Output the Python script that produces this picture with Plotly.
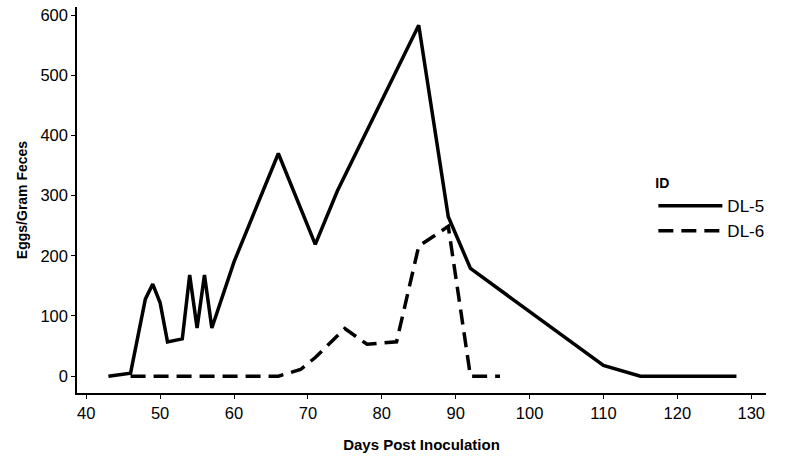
import plotly.graph_objects as go

dl5_days = [43, 46, 48, 49, 50, 51, 53, 54, 55, 56, 57, 60, 66, 71, 74, 85, 89, 92, 110, 115, 128]
dl5_eggs = [0, 5, 128, 153, 122, 57, 62, 168, 80, 168, 80, 190, 370, 219, 308, 583, 265, 179, 18, 0, 0]

dl6_days = [46, 50, 55, 60, 66, 69, 71, 75, 78, 82, 85, 89, 92, 96]
dl6_eggs = [0, 0, 0, 0, 0, 11, 31, 79, 53, 57, 216, 249, 0, 0]

x_ticks = [40, 50, 60, 70, 80, 90, 100, 110, 120, 130]
y_ticks = [0, 100, 200, 300, 400, 500, 600]

fig = go.Figure()
fig.add_trace(go.Scatter(x=dl5_days, y=dl5_eggs, mode="lines", name="DL-5",
                         line=dict(color="black", width=3.5)))
fig.add_trace(go.Scatter(x=dl6_days, y=dl6_eggs, mode="lines", name="DL-6",
                         line=dict(color="black", width=3.5, dash="15px,8px")))

font_family = "Liberation Sans, Arial, sans-serif"
fig.update_layout(
    width=800, height=458,
    margin=dict(l=77, r=34, t=7, b=65),
    paper_bgcolor="white", plot_bgcolor="white",
    font=dict(family=font_family, color="black", size=16),
    showlegend=True,
    legend=dict(
        title=dict(text="<b>ID</b>", font=dict(size=14, family=font_family)),
        x=0.8365, y=0.578, xanchor="left", yanchor="top",
        bgcolor="rgba(0,0,0,0)", font=dict(size=17),
        tracegroupgap=0, itemwidth=64,
    ),
    xaxis=dict(
        range=[38.75, 132.0], tickvals=x_ticks,
        showline=True, linecolor="black", linewidth=1.5,
        ticks="outside", ticklen=4, tickwidth=1.2, tickcolor="black",
        showgrid=False, zeroline=False, automargin=False,
        tickfont=dict(size=16.5),
        title=dict(text="<b>Days Post Inoculation</b>", font=dict(size=15), standoff=19),
    ),
    yaxis=dict(
        range=[-28, 613.5], tickvals=y_ticks,
        showline=True, linecolor="black", linewidth=1.5,
        ticks="outside", ticklen=4, tickwidth=1.2, tickcolor="black",
        showgrid=False, zeroline=False, automargin=False,
        tickfont=dict(size=16.5),
        title=dict(text="<b>Eggs/Gram Feces</b>", font=dict(size=14), standoff=10),
    ),
)

fig.write_html("out.html", config={"displayModeBar": False},
               post_script="document.body.style.margin='0';")
